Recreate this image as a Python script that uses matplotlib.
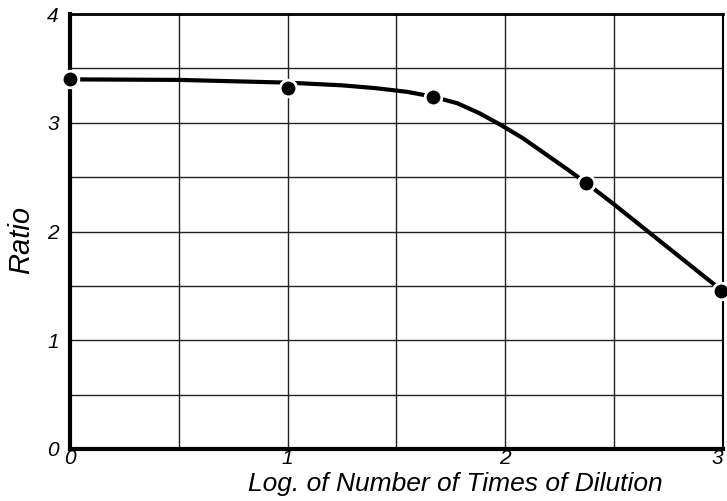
import matplotlib
matplotlib.use("Agg")
import matplotlib.pyplot as plt

# measured points
pt_x = [0, 1.0, 1.67, 2.37, 2.99]
pt_y = [3.40, 3.32, 3.24, 2.45, 1.45]

# hand drawn smooth curve
curve_x = [0, 0.5, 1.0, 1.25, 1.4, 1.55, 1.67, 1.78, 1.88, 1.98, 2.08, 2.18, 2.28, 2.37, 2.5, 2.75, 3.0]
curve_y = [3.40, 3.395, 3.37, 3.345, 3.32, 3.285, 3.24, 3.18, 3.09, 2.98, 2.86, 2.72, 2.58, 2.45, 2.25, 1.85, 1.45]

x_labels = ['0', '', '1', '', '2', '', '3']
y_labels = ['0', '', '1', '', '2', '', '3', '', '4']

plt.rcParams['font.family'] = ['Liberation Sans', 'DejaVu Sans']
plt.rcParams['font.style'] = 'italic'

fig = plt.figure(figsize=(7.27, 5.01), dpi=100)
ax = fig.add_axes([0.0963, 0.1038, 0.898, 0.868])

ax.set_xlim(0, 3)
ax.set_ylim(0, 4)
ax.set_xticks([0, 0.5, 1, 1.5, 2, 2.5, 3])
ax.set_xticklabels(x_labels)
ax.set_yticks([0, 0.5, 1, 1.5, 2, 2.5, 3, 3.5, 4])
ax.set_yticklabels(y_labels)
ax.grid(True, color='#222222', linewidth=1.0)
ax.tick_params(length=0, labelsize=15)
ax.tick_params(axis='x', pad=0)
ax.tick_params(axis='y', pad=8)
ax.get_xticklabels()[-1].set_horizontalalignment('right')

ax.spines['left'].set_linewidth(3)
ax.spines['bottom'].set_linewidth(3)
ax.spines['top'].set_linewidth(2)
ax.spines['right'].set_linewidth(1.5)

ax.plot(curve_x, curve_y, color='black', linewidth=3, solid_capstyle='round',
        clip_on=False, zorder=3)
ax.plot(pt_x, pt_y, 'o', color='black', markersize=12, markeredgecolor='white',
        markeredgewidth=2, clip_on=False, zorder=4)

ax.set_xlabel('Log. of Number of Times of Dilution', fontsize=19)
ax.xaxis.set_label_coords(0.59, -0.052)
ax.set_ylabel('Ratio', fontsize=21)
ax.yaxis.set_label_coords(-0.053, 0.48)

fig.savefig('out.png', dpi=100)
